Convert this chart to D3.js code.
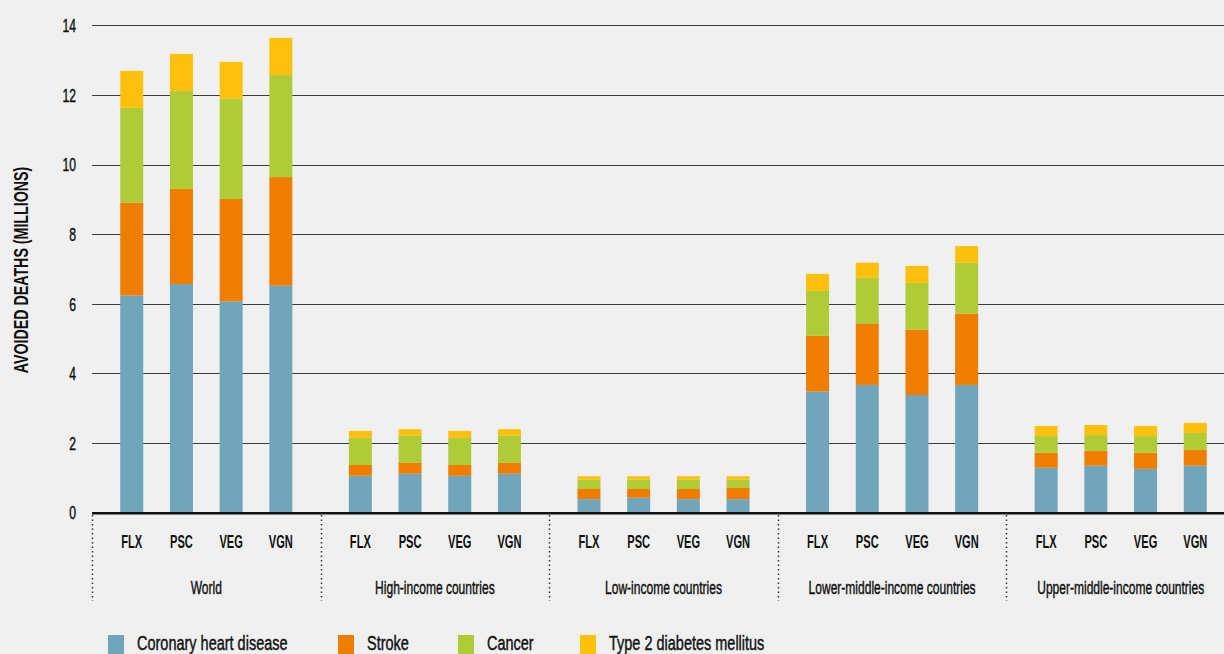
<!DOCTYPE html>
<html>
<head>
<meta charset="utf-8">
<script src="https://cdn.jsdelivr.net/npm/d3@7"></script>
<style>
  html, body { margin: 0; padding: 0; background: #f0f0f0; }
  svg { display: block; }
  text { font-family: "Liberation Sans", Arial, sans-serif; fill: #111; }
  .heavy { stroke: #111; stroke-width: 0.45px; }
</style>
</head>
<body>
<svg id="chart" width="1224" height="654"></svg>
<script>
const groups = ["World", "High-income countries", "Low-income countries", "Lower-middle-income countries", "Upper-middle-income countries"];
const diets = ["FLX", "PSC", "VEG", "VGN"];
const seriesNames = ["Coronary heart disease", "Stroke", "Cancer", "Type 2 diabetes mellitus"];
const seriesColors = ["#71a5bc", "#ef7d00", "#b0cb38", "#fdc00d"];
const yTicks = [0, 2, 4, 6, 8, 10, 12, 14];

// values per group, in diet order FLX, PSC, VEG, VGN (millions)
const chd = [
  [6.24, 6.57, 6.07, 6.52],
  [1.06, 1.12, 1.06, 1.12],
  [0.39, 0.43, 0.39, 0.39],
  [3.48, 3.67, 3.38, 3.67],
  [1.29, 1.35, 1.26, 1.35]
];
const stroke = [
  [2.66, 2.73, 2.94, 3.12],
  [0.31, 0.31, 0.31, 0.31],
  [0.29, 0.25, 0.29, 0.32],
  [1.60, 1.75, 1.87, 2.05],
  [0.43, 0.42, 0.46, 0.45]
];
const cancer = [
  [2.73, 2.81, 2.88, 2.93],
  [0.78, 0.78, 0.78, 0.78],
  [0.27, 0.27, 0.27, 0.24],
  [1.29, 1.33, 1.35, 1.46],
  [0.48, 0.46, 0.48, 0.49]
];
const diabetes = [
  [1.06, 1.07, 1.06, 1.07],
  [0.20, 0.19, 0.20, 0.19],
  [0.10, 0.10, 0.10, 0.10],
  [0.49, 0.43, 0.49, 0.48],
  [0.29, 0.29, 0.29, 0.29]
];

const svg = d3.select("#chart");
const seriesData = [chd, stroke, cancer, diabetes];

const y = d3.scaleLinear().domain([0, 14]).range([512.7, 25.3]);
const x0 = d3.scaleBand().domain(groups).range([92, 1235]).padding(0);
const x1 = d3.scaleBand().domain(diets).range([0, x0.bandwidth()]).paddingInner(0).paddingOuter(0.3);
const barW = 23;

// gridlines
svg.append("g").selectAll("line")
  .data(yTicks.filter(d => d > 0))
  .join("line")
  .attr("x1", 92).attr("x2", 1224)
  .attr("y1", d => Math.round(y(d)) + 0.5).attr("y2", d => Math.round(y(d)) + 0.5)
  .attr("stroke", "#3a3a3a").attr("stroke-width", 1.2);

// y tick labels
svg.append("g").selectAll("text")
  .data(yTicks)
  .join("text")
  .attr("class", "heavy")
  .attr("transform", d => `translate(76,${y(d) + 6.7}) scale(0.64,1)`)
  .attr("text-anchor", "end")
  .style("font-size", "19px")
  .text(d => d);

// y axis title
svg.append("text")
  .attr("transform", "translate(28,270) rotate(-90) scale(0.73,1)")
  .attr("text-anchor", "middle")
  .style("font-size", "19.5px")
  .style("font-weight", "bold")
  .text("AVOIDED DEATHS (MILLIONS)");

// stacked bars
const rows = [];
groups.forEach((g, gi) => {
  diets.forEach((dname, di) => {
    let base = 0;
    seriesData.forEach((s, si) => {
      const v = s[gi][di];
      rows.push({ g, d: dname, si, y0: base, y1: base + v });
      base += v;
    });
  });
});

svg.append("g").selectAll("rect")
  .data(rows)
  .join("rect")
  .attr("x", r => x0(r.g) + x1(r.d) + x1.bandwidth() / 2 - barW / 2)
  .attr("width", barW)
  .attr("y", r => y(r.y1))
  .attr("height", r => y(r.y0) - y(r.y1))
  .attr("fill", r => seriesColors[r.si]);

// zero axis line
svg.append("line")
  .attr("x1", 92).attr("x2", 1224)
  .attr("y1", y(0) + 0.5).attr("y2", y(0) + 0.5)
  .attr("stroke", "#111").attr("stroke-width", 2.5);

// diet tick labels
const tickG = svg.append("g");
groups.forEach(g => {
  tickG.selectAll(null)
    .data(diets)
    .join("text")
    .attr("transform", d => `translate(${x0(g) + x1(d) + x1.bandwidth() / 2},547.5) scale(0.6,1)`)
    .attr("text-anchor", "middle")
    .style("font-size", "18.5px")
    .style("font-weight", "bold")
    .text(d => d);
});

// group labels
svg.append("g").selectAll("text")
  .data(groups)
  .join("text")
  .attr("class", "heavy")
  .attr("transform", g => `translate(${x0(g) + x0.bandwidth() / 2},594) scale(0.65,1)`)
  .attr("text-anchor", "middle")
  .style("font-size", "18.5px")
  .text(g => g);

// dotted separators
svg.append("g").selectAll("line")
  .data(groups)
  .join("line")
  .attr("x1", g => Math.round(x0(g)) + 0.5).attr("x2", g => Math.round(x0(g)) + 0.5)
  .attr("y1", 515).attr("y2", 601)
  .attr("stroke", "#333").attr("stroke-width", 1.5)
  .attr("stroke-dasharray", "1.5,3");

// legend
const legendX = [108, 338, 458, 580];
const leg = svg.append("g").selectAll("g")
  .data(seriesNames)
  .join("g")
  .attr("transform", (d, i) => `translate(${legendX[i]},635)`);
leg.append("rect").attr("width", 16).attr("height", 19).attr("fill", (d, i) => seriesColors[i]);
leg.append("text")
  .attr("class", "heavy")
  .attr("transform", "translate(29,14.5) scale(0.69,1)")
  .style("font-size", "21px")
  .text(d => d);
</script>
</body>
</html>
